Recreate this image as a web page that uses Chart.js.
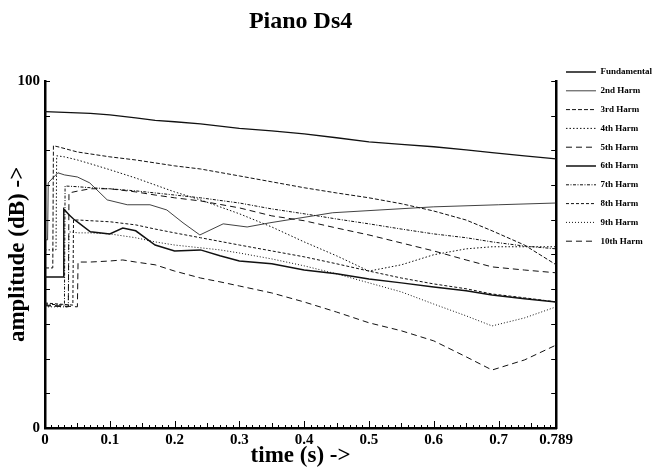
<!DOCTYPE html>
<html>
<head>
<meta charset="utf-8">
<title>Piano Ds4</title>
<script src="https://cdn.jsdelivr.net/npm/chart.js"></script>
<style>
  html, body { margin: 0; padding: 0; background: #fff; }
  #wrap { width: 665px; height: 470px; }
</style>
</head>
<body>
<div id="wrap"><canvas id="pianoChart" width="665" height="470"></canvas></div>
<script>
/* Piano Ds4 - harmonic amplitude envelopes */

const seriesNames = [
  "Fundamental", "2nd Harm", "3rd Harm", "4th Harm", "5th Harm",
  "6th Harm", "7th Harm", "8th Harm", "9th Harm", "10th Harm"
];

// [time (s), amplitude (dB)]
const fundamental = [[0, 91.1], [0.07, 90.6], [0.1, 90.2], [0.14, 89.3], [0.17, 88.6], [0.2, 88.2], [0.24, 87.6], [0.3, 86.3], [0.35, 85.6], [0.4, 84.7], [0.45, 83.6], [0.5, 82.4], [0.55, 81.7], [0.6, 81.0], [0.65, 80.1], [0.69, 79.3], [0.74, 78.4], [0.789, 77.5]];
const harm2 = [[0, 54.2], [0.004, 54.2], [0.005, 70.6], [0.012, 72.0], [0.02, 73.5], [0.03, 72.9], [0.05, 72.3], [0.069, 70.6], [0.096, 65.7], [0.127, 64.3], [0.162, 64.3], [0.188, 62.8], [0.213, 59.1], [0.239, 55.6], [0.275, 58.8], [0.312, 57.9], [0.347, 59.1], [0.444, 62.0], [0.517, 62.8], [0.6, 63.7], [0.7, 64.3], [0.789, 64.8]];
const harm3 = [[0, 46.1], [0.012, 46.1], [0.013, 81.3], [0.02, 81.0], [0.05, 79.5], [0.1, 78.1], [0.14, 77.2], [0.2, 75.5], [0.24, 74.6], [0.3, 72.6], [0.35, 70.9], [0.4, 69.2], [0.45, 67.7], [0.5, 66.3], [0.55, 64.6], [0.6, 62.5], [0.65, 59.9], [0.69, 56.8], [0.74, 52.7], [0.789, 47.0]];
const harm4 = [[0, 51.3], [0.017, 51.3], [0.018, 78.4], [0.03, 78.1], [0.05, 77.2], [0.07, 76.1], [0.1, 74.4], [0.14, 72.0], [0.17, 70.0], [0.2, 68.0], [0.24, 65.7], [0.27, 63.7], [0.3, 61.7], [0.35, 57.9], [0.4, 53.6], [0.45, 49.6], [0.5, 45.2], [0.55, 47.0], [0.6, 49.9], [0.65, 51.6], [0.69, 52.2], [0.74, 52.2], [0.789, 52.2]];
const harm5 = [[0, 35.2], [0.036, 34.9], [0.037, 67.7], [0.052, 68.3], [0.07, 68.9], [0.1, 68.9], [0.14, 68.0], [0.17, 67.1], [0.2, 66.3], [0.24, 65.4], [0.3, 63.4], [0.35, 61.1], [0.4, 59.7], [0.45, 57.6], [0.5, 55.6], [0.55, 53.3], [0.6, 51.0], [0.65, 48.4], [0.69, 46.4], [0.74, 45.5], [0.789, 44.7]];
const harm6 = [[0, 43.5], [0.028, 43.5], [0.029, 63.1], [0.037, 61.4], [0.044, 60.2], [0.052, 59.1], [0.07, 56.5], [0.1, 55.9], [0.12, 57.6], [0.14, 56.8], [0.17, 52.7], [0.2, 51.0], [0.24, 51.3], [0.27, 49.6], [0.3, 48.1], [0.35, 47.3], [0.4, 45.5], [0.45, 44.4], [0.5, 42.9], [0.55, 41.8], [0.6, 40.6], [0.65, 39.5], [0.69, 38.3], [0.74, 37.2], [0.789, 36.3]];
const harm7 = [[0, 35.7], [0.03, 35.4], [0.031, 69.7], [0.05, 69.5], [0.07, 69.2], [0.1, 68.9], [0.14, 68.3], [0.2, 67.1], [0.24, 66.3], [0.3, 64.8], [0.35, 63.1], [0.4, 61.7], [0.45, 60.2], [0.5, 58.8], [0.55, 57.3], [0.6, 55.9], [0.65, 54.8], [0.69, 53.6], [0.74, 52.4], [0.789, 51.6]];
const harm8 = [[0, 36.0], [0.043, 35.4], [0.044, 59.9], [0.052, 59.9], [0.07, 59.7], [0.1, 59.4], [0.14, 58.5], [0.17, 57.3], [0.2, 56.2], [0.24, 54.8], [0.3, 52.7], [0.35, 51.0], [0.4, 49.3], [0.45, 47.3], [0.5, 45.2], [0.55, 43.2], [0.6, 41.5], [0.65, 40.1], [0.69, 38.6], [0.74, 37.5], [0.789, 36.3]];
const harm9 = [[0, 34.9], [0.036, 34.9], [0.037, 56.5], [0.052, 56.2], [0.07, 56.2], [0.1, 55.9], [0.14, 54.8], [0.17, 53.6], [0.2, 52.7], [0.24, 51.9], [0.27, 51.3], [0.3, 50.4], [0.35, 48.7], [0.4, 46.7], [0.45, 44.4], [0.5, 41.8], [0.55, 39.2], [0.6, 35.7], [0.65, 32.3], [0.69, 29.4], [0.74, 31.7], [0.789, 34.9]];
const harm10 = [[0, 35.4], [0.05, 34.9], [0.051, 47.8], [0.07, 47.8], [0.1, 48.1], [0.12, 48.4], [0.14, 47.8], [0.17, 47.0], [0.2, 45.2], [0.24, 43.2], [0.27, 42.1], [0.3, 40.9], [0.35, 38.9], [0.4, 36.3], [0.45, 33.4], [0.5, 30.3], [0.55, 28.0], [0.6, 25.1], [0.65, 20.5], [0.69, 16.7], [0.74, 19.6], [0.789, 23.9]];

const xLabelValues = [0, 0.1, 0.2, 0.3, 0.4, 0.5, 0.6, 0.7, 0.789];
const xLabelTexts = ["0", "0.1", "0.2", "0.3", "0.4", "0.5", "0.6", "0.7", "0.789"];
const yLabelValues = [0, 100];
const xMax = 0.789;

const allSeries = [fundamental, harm2, harm3, harm4, harm5, harm6, harm7, harm8, harm9, harm10];

const lineStyles = [
  { width: 1.3, dash: [] },
  { width: 0.8, dash: [] },
  { width: 1, dash: [4, 2] },
  { width: 1, dash: [1.5, 2] },
  { width: 1, dash: [6, 4] },
  { width: 1.5, dash: [] },
  { width: 1, dash: [3, 1.5, 1, 1.5] },
  { width: 1, dash: [3, 2] },
  { width: 1, dash: [1, 2] },
  { width: 1, dash: [6, 4] }
];

const SERIF = "'Liberation Serif', 'Times New Roman', serif";

const inwardTicks = {
  id: "inwardTicks",
  afterDatasetsDraw(chart) {
    const { ctx, chartArea, scales } = chart;
    ctx.save();
    ctx.strokeStyle = "#000";
    ctx.lineWidth = 1;
    ctx.beginPath();

    scales.x.ticks.forEach(tick => {
      const px = Math.round(scales.x.getPixelForValue(tick.value)) + 0.5;
      const step = Math.round(tick.value * 100);
      const len = step % 10 === 0 ? 7 : step % 5 === 0 ? 5 : 3;
      ctx.moveTo(px, chartArea.bottom);
      ctx.lineTo(px, chartArea.bottom - len);
    });

    scales.y.ticks.forEach(tick => {
      const py = Math.round(scales.y.getPixelForValue(tick.value)) + 0.5;
      ctx.moveTo(chartArea.left, py);
      ctx.lineTo(chartArea.left + 5, py);
      ctx.moveTo(chartArea.right, py);
      ctx.lineTo(chartArea.right - 5, py);
    });

    ctx.stroke();
    ctx.restore();
  }
};

function buildDatasets() {
  return allSeries.map((points, i) => ({
    label: seriesNames[i],
    data: points.map(p => ({ x: p[0], y: p[1] })),
    borderColor: "#111",
    backgroundColor: "transparent",
    borderWidth: lineStyles[i].width,
    borderDash: lineStyles[i].dash,
    pointRadius: 0,
    tension: 0,
    fill: false
  }));
}

// point-style legend items take the point's style, so put the line dash back
function legendLabels(chart) {
  const items = Chart.defaults.plugins.legend.labels.generateLabels(chart);
  items.forEach(item => {
    const ds = chart.data.datasets[item.datasetIndex];
    item.lineDash = ds.borderDash;
    item.lineWidth = ds.borderWidth;
    item.strokeStyle = ds.borderColor;
  });
  return items;
}

function render() {
  Chart.defaults.font.family = SERIF;
  Chart.defaults.color = "#000";

  new Chart(document.getElementById("pianoChart"), {
    type: "line",
    data: { datasets: buildDatasets() },
    plugins: [inwardTicks],
    options: {
      responsive: false,
      animation: false,
      layout: { padding: { left: 0, right: 3, top: 0, bottom: 0 } },
      plugins: {
        title: {
          display: true,
          text: "Piano Ds4",
          fullSize: false,
          color: "#000",
          font: { family: SERIF, size: 24, weight: "bold" },
          padding: { top: 7, bottom: 45 }
        },
        legend: {
          position: "right",
          align: "start",
          title: { display: true, text: "", font: { size: 12 }, padding: { top: 43.3, bottom: 0 } },
          labels: {
            usePointStyle: true,
            pointStyle: "line",
            pointStyleWidth: 30,
            padding: 9.8,
            color: "#000",
            font: { family: SERIF, size: 9, weight: "bold" },
            generateLabels: legendLabels
          }
        },
        tooltip: { enabled: false }
      },
      scales: {
        x: {
          type: "linear",
          min: 0,
          max: xMax,
          afterBuildTicks(scale) {
            const ticks = [];
            for (let i = 0; i <= 78; i++) ticks.push({ value: i / 100 });
            ticks.push({ value: xMax });
            scale.ticks = ticks;
          },
          afterFit(scale) { scale.height = 42; },
          grid: { display: false, drawTicks: false },
          border: { display: true, color: "#000", width: 2.5 },
          ticks: {
            autoSkip: false,
            maxRotation: 0,
            padding: 3,
            color: "#000",
            font: { family: SERIF, size: 15, weight: "bold" },
            callback(value) {
              const k = xLabelValues.findIndex(v => Math.abs(v - value) < 1e-6);
              return k >= 0 ? xLabelTexts[k] : "";
            }
          },
          title: {
            display: true,
            text: "time (s) ->",
            color: "#000",
            font: { family: SERIF, size: 23, weight: "bold" },
            padding: { top: 0, bottom: 0 }
          }
        },
        y: {
          min: 0,
          max: 100,
          afterFit(scale) { scale.width = 45; },
          grid: { display: false, drawTicks: false },
          border: { display: true, color: "#000", width: 2.5 },
          ticks: {
            stepSize: 10,
            autoSkip: false,
            padding: 5,
            color: "#000",
            font: { family: SERIF, size: 15, weight: "bold" },
            callback(value) {
              return yLabelValues.includes(value) ? String(value) : "";
            }
          },
          title: {
            display: true,
            text: "amplitude (dB) ->",
            color: "#000",
            font: { family: SERIF, size: 23, weight: "bold" },
            padding: { top: 4, bottom: 0 }
          }
        },
        y2: {
          position: "right",
          min: 0,
          max: 100,
          afterFit(scale) { scale.width = 0; },
          grid: { display: false, drawTicks: false },
          border: { display: true, color: "#000", width: 2.5 },
          ticks: { display: false }
        }
      }
    }
  });
}

render();
</script>
</body>
</html>
